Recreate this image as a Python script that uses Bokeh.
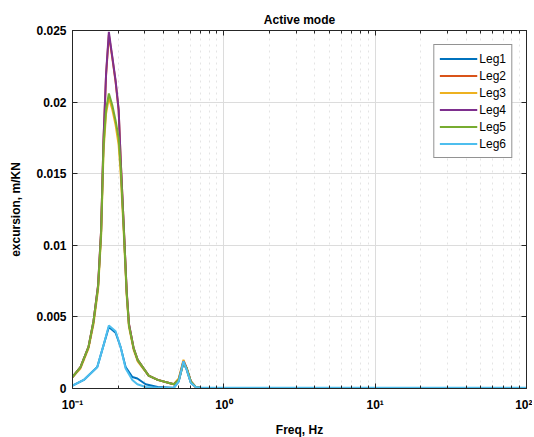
from bokeh.plotting import figure
from bokeh.models import (LogAxis, LinearAxis, Range1d, FixedTicker,
                          CustomJSTickFormatter, Legend, LegendItem)
from bokeh.embed import file_html
from bokeh.resources import INLINE

# ---- data ----
freq_big = [0.1, 0.1129, 0.1276, 0.1377, 0.1476, 0.1545, 0.1604, 0.1667, 0.1739,
            0.1831, 0.1927, 0.2018, 0.2081, 0.2178, 0.2280, 0.2361, 0.2536, 0.2694,
            0.3185, 0.3654, 0.4666, 0.5035, 0.5410, 0.5689, 0.6046, 0.6529, 0.7047,
            1.0, 2.0, 5.0, 10.0, 20.0, 50.0, 100.0]
leg2 = [0.0008, 0.0015, 0.0029, 0.0047, 0.0072, 0.0110, 0.0174, 0.0219, 0.0247,
        0.0231, 0.0214, 0.0194, 0.0160, 0.0115, 0.0068, 0.0045, 0.0028, 0.0020,
        0.0009, 0.0006, 0.0003, 0.0006, 0.0019, 0.0014, 0.0005, 0.0001, 0.00004,
        0.00003, 0.00003, 0.00003, 0.00003, 0.00003, 0.00003, 0.00003]
leg3 = [0.0008, 0.0014, 0.0028, 0.0045, 0.0069, 0.0106, 0.0166, 0.0192, 0.0203,
        0.0195, 0.0184, 0.0170, 0.0150, 0.0110, 0.0065, 0.0043, 0.0027, 0.0019,
        0.0009, 0.0006, 0.0003, 0.0007, 0.0020, 0.0014, 0.0005, 0.0001, 0.00004,
        0.00003, 0.00003, 0.00003, 0.00003, 0.00003, 0.00003, 0.00003]
leg4 = [0.0008, 0.0015, 0.0029, 0.0047, 0.0072, 0.0110, 0.0175, 0.0220, 0.0249,
        0.0232, 0.0215, 0.0195, 0.0160, 0.0115, 0.0068, 0.0045, 0.0028, 0.0020,
        0.0009, 0.0006, 0.0003, 0.0006, 0.0019, 0.0014, 0.0005, 0.0001, 0.00004,
        0.00003, 0.00003, 0.00003, 0.00003, 0.00003, 0.00003, 0.00003]
leg5 = [0.0008, 0.0015, 0.0029, 0.0047, 0.0071, 0.0108, 0.0170, 0.0195, 0.0206,
        0.0198, 0.0187, 0.0175, 0.0155, 0.0113, 0.0067, 0.0044, 0.0028, 0.0020,
        0.0009, 0.0006, 0.0003, 0.0006, 0.0018, 0.0014, 0.0005, 0.0001, 0.00004,
        0.00003, 0.00003, 0.00003, 0.00003, 0.00003, 0.00003, 0.00003]

freq_small = [0.1, 0.1188, 0.1458, 0.1612, 0.1739, 0.1927, 0.2079, 0.2244, 0.2485,
              0.2683, 0.3043, 0.3654, 0.4666, 0.5035, 0.5410, 0.5689, 0.6046,
              0.6529, 0.7047, 1.0, 2.0, 5.0, 10.0, 20.0, 50.0, 100.0]
leg1 = [0.0002, 0.0006, 0.0015, 0.0031, 0.0043, 0.0039, 0.0029, 0.0015, 0.0008,
        0.0007, 0.0003, 0.0001, 0.00005, 0.0005, 0.0018, 0.0013, 0.0004, 0.0001,
        0.00004, 0.00004, 0.00004, 0.00004, 0.00004, 0.00004, 0.00004, 0.00004]
leg6 = [0.0002, 0.0006, 0.0015, 0.0031, 0.0044, 0.0040, 0.0029, 0.0014, 0.0006,
        0.0003, 0.0001, 0.00005, 0.00003, 0.0005, 0.0019, 0.0013, 0.0004, 0.0001,
        0.00005, 0.00005, 0.00005, 0.00005, 0.00005, 0.00005, 0.00005, 0.00005]

series = [
    ("Leg1", freq_small, leg1, "#0072BD"),
    ("Leg2", freq_big, leg2, "#D95319"),
    ("Leg3", freq_big, leg3, "#EDB120"),
    ("Leg4", freq_big, leg4, "#7E2F8E"),
    ("Leg5", freq_big, leg5, "#77AC30"),
    ("Leg6", freq_small, leg6, "#4DBEEE"),
]

y_ticks = [0, 0.005, 0.01, 0.015, 0.02, 0.025]
x_ticks = [0.1, 1, 10, 100]

title_text = "Active mode"
x_label = "Freq, Hz"
y_label = "excursion, m/KN"

FONT = "Liberation Sans"
AX = "#262626"

p = figure(width=524, height=420, x_axis_type="log",
           x_range=Range1d(0.1, 100), y_range=Range1d(0, 0.025),
           output_backend="svg", toolbar_location=None,
           min_border_left=72, min_border_right=6, min_border_top=30,
           min_border_bottom=4)
p.frame_width = 454
p.frame_height = 358

p.title.text = title_text
p.title.align = "center"
p.title.text_font = FONT
p.title.text_font_size = "12px"
p.title.text_font_style = "bold"
p.title.text_color = "#000000"
p.title.standoff = 8

xfmt = CustomJSTickFormatter(code="""
const sup = {'-':'\u207B','0':'\u2070','1':'\u00B9','2':'\u00B2','3':'\u00B3',
             '4':'\u2074','5':'\u2075','6':'\u2076','7':'\u2077','8':'\u2078','9':'\u2079'};
const e = Math.round(Math.log10(tick));
return '10' + String(e).split('').map(c => sup[c]).join('');
""")
yfmt = CustomJSTickFormatter(code="""
if (Math.abs(tick) < 1e-12) return '0';
return String(parseFloat(tick.toFixed(3)));
""")

minor_x = [v * k for v in [0.1, 1, 10] for k in range(2, 10)]
xt_major = FixedTicker(ticks=x_ticks, minor_ticks=minor_x)
yt = FixedTicker(ticks=y_ticks)

xaxis = p.xaxis[0]
yaxis = p.yaxis[0]
xaxis.ticker = xt_major
xaxis.formatter = xfmt
xaxis.axis_label = x_label
yaxis.ticker = yt
yaxis.formatter = yfmt
yaxis.axis_label = y_label

top = LogAxis(ticker=xt_major, major_label_text_font_size="0px",
              major_label_text_color=None)
right = LinearAxis(ticker=yt, major_label_text_font_size="0px",
                   major_label_text_color=None)
p.add_layout(top, "above")
p.add_layout(right, "right")

for ax in [xaxis, yaxis, top, right]:
    ax.axis_line_color = AX
    ax.major_tick_line_color = AX
    ax.minor_tick_line_color = AX
    ax.major_tick_in = 5
    ax.major_tick_out = 0
    ax.minor_tick_in = 3
    ax.minor_tick_out = 0
for ax in [xaxis, yaxis]:
    ax.major_label_text_font = FONT
    ax.major_label_text_font_style = "bold"
    ax.major_label_text_color = "#000000"
    ax.major_label_text_font_size = "12px"
    ax.axis_label_text_font = FONT
    ax.axis_label_text_font_style = "bold"
    ax.axis_label_text_font_size = "12px"
    ax.axis_label_text_color = "#000000"
yaxis.minor_tick_line_color = None
right.minor_tick_line_color = None
xaxis.major_label_standoff = 9
xaxis.axis_label_standoff = 8
yaxis.major_label_standoff = 6
yaxis.axis_label_standoff = 10
for ax in [top, right]:
    ax.major_label_standoff = 0
    ax.axis_label_standoff = 0

p.xgrid.ticker = xt_major
p.ygrid.ticker = yt
p.xgrid.grid_line_color = "#dcdcdc"
p.ygrid.grid_line_color = "#dcdcdc"
p.xgrid.minor_grid_line_color = "#e4e4e4"
p.xgrid.minor_grid_line_dash = "dotted"
p.outline_line_color = AX

items = []
for name, fx, fy, col in series:
    r = p.line(fx, fy, line_color=col, line_width=2)
    items.append(LegendItem(label=name, renderers=[r]))

legend = Legend(items=items, location="top_right")
legend.label_text_font = FONT
legend.label_text_font_size = "12px"
legend.label_text_color = "#000000"
legend.glyph_width = 38
legend.glyph_height = 17
legend.label_height = 17
legend.spacing = 0
legend.padding = 5
legend.margin = 14
legend.label_standoff = 2
legend.border_line_color = AX
legend.border_line_width = 1
legend.background_fill_alpha = 1
p.add_layout(legend)

open("out.html", "w").write(file_html(p, INLINE))
